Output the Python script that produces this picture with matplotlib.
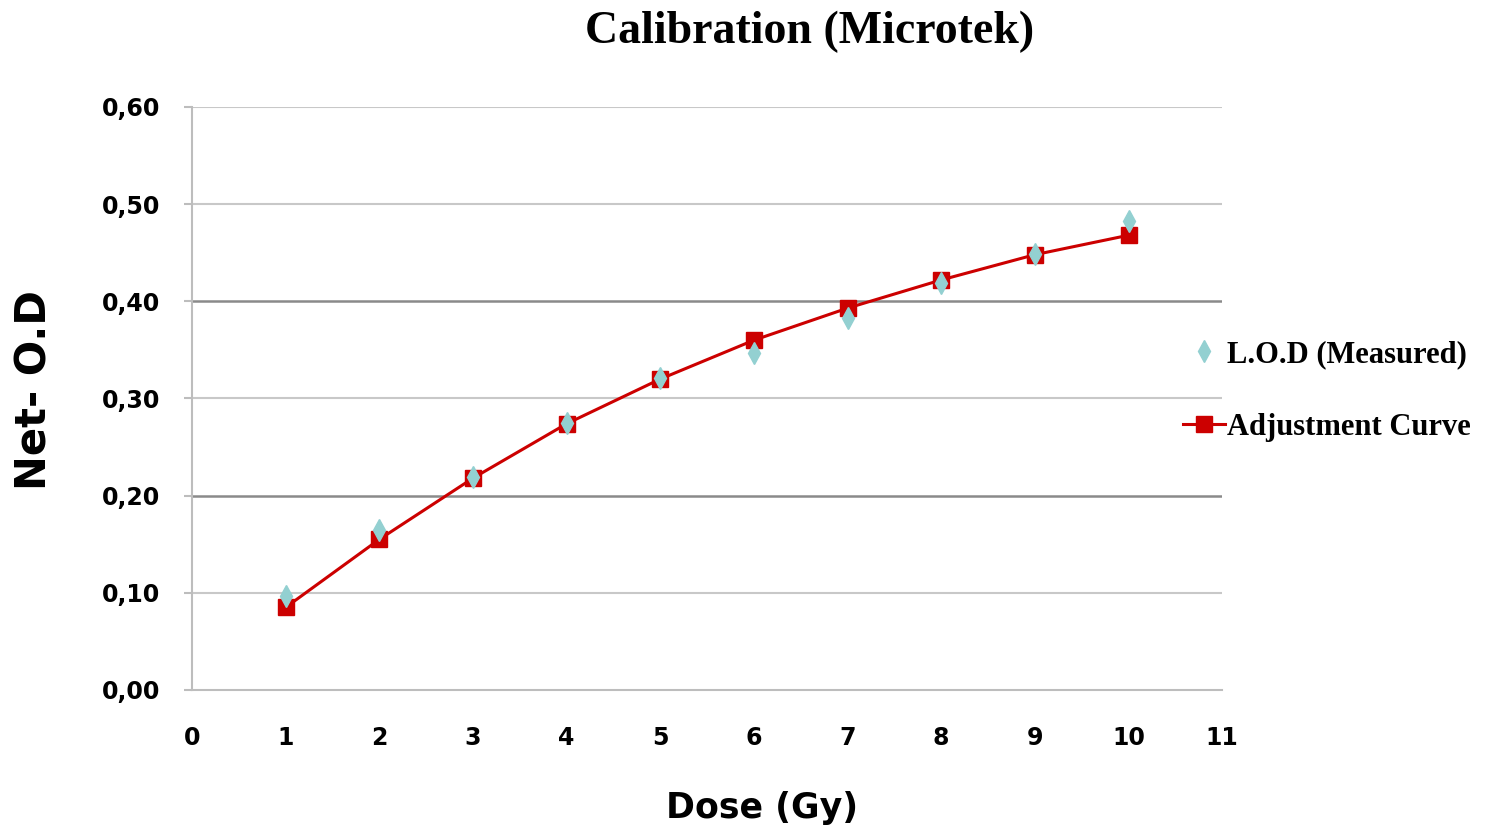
import matplotlib.pyplot as plt

dose = [1, 2, 3, 4, 5, 6, 7, 8, 9, 10]
measured = [0.097, 0.165, 0.219, 0.275, 0.321, 0.347, 0.383, 0.419, 0.449, 0.483]
fitted = [0.085, 0.155, 0.218, 0.274, 0.320, 0.360, 0.393, 0.422, 0.448, 0.468]

yticks = [0.0, 0.1, 0.2, 0.3, 0.4, 0.5, 0.6]
ytick_labels = ["0,00", "0,10", "0,20", "0,30", "0,40", "0,50", "0,60"]
xticks = list(range(0, 12))

fig = plt.figure(figsize=(14.93, 8.32), dpi=100)
ax = fig.add_axes([0.1286, 0.1707, 0.69, 0.7007])

# gridlines (0.2 and 0.4 drawn darker, as in the original)
for y in yticks[1:]:
    dark = y in (0.2, 0.4)
    ax.axhline(y, color="#8a8a8a" if dark else "#c8c8c8", lw=1.8 if dark else 1.5, zorder=0)

ax.plot(dose, fitted, color="#cc0000", lw=2.2, marker="s", markersize=11,
        label="Adjustment Curve", zorder=2)
ax.plot(dose, measured, ls="none", marker="d", markersize=11, color="#93d0d1",
        label="L.O.D (Measured)", zorder=3)

ax.set_xlim(0, 11)
ax.set_ylim(0, 0.6)
ax.set_xticks(xticks)
ax.set_yticks(yticks)
ax.set_yticklabels(ytick_labels)

for s in ["top", "right"]:
    ax.spines[s].set_visible(False)
ax.spines["left"].set_color("#bdbdbd")
ax.spines["bottom"].set_color("#bdbdbd")
ax.spines["left"].set_linewidth(1.5)
ax.spines["bottom"].set_linewidth(1.5)

ax.tick_params(axis="x", length=0, pad=26)
ax.tick_params(axis="y", length=6, color="#bdbdbd", width=1.5, pad=17)
for lab in ax.get_xticklabels() + ax.get_yticklabels():
    lab.set_fontsize(17)
    lab.set_fontweight("bold")
    lab.set_family("DejaVu Sans")

ax.set_xlabel("Dose (Gy)", fontsize=25, fontweight="bold")
ax.xaxis.set_label_coords((762 - 192) / 1030, -(808 - 690) / 583)
ax.xaxis.label.set_va("center")
ax.set_ylabel("Net- O.D", fontsize=30, fontweight="bold")
ax.yaxis.set_label_coords(-(192 - 35) / 1030, (690 - 390) / 583)
ax.yaxis.label.set_va("center")

fig.text(810 / 1493, 1 - 32 / 832, "Calibration (Microtek)", ha="center", va="center",
         fontsize=33, fontweight="bold", family="Liberation Serif")

handles, labels = ax.get_legend_handles_labels()
leg = ax.legend(handles[::-1], labels[::-1], loc="center left",
                bbox_to_anchor=(0.935, 0.513), frameon=False,
                prop={"family": "Liberation Serif", "weight": "bold", "size": 22},
                handlelength=1.4, handletextpad=0.05, labelspacing=1.45)

fig.savefig("out.png", dpi=100)
